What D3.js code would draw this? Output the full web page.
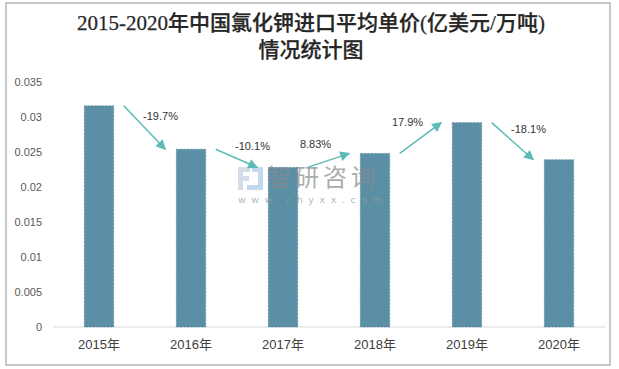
<!DOCTYPE html>
<html><head><meta charset="utf-8">
<script src="https://cdn.jsdelivr.net/npm/d3@7/dist/d3.min.js"></script>
<style>body{margin:0;background:#fff}svg{display:block}</style>
</head><body>
<script>
const categories = ["2015年","2016年","2017年","2018年","2019年","2020年"];
const values = [0.0316, 0.0254, 0.0228, 0.0248, 0.0292, 0.0239];
const growthLabels = ["-19.7%","-10.1%","8.83%","17.9%","-18.1%"];
const yTicks = [0, 0.005, 0.01, 0.015, 0.02, 0.025, 0.03, 0.035];
const titleLines = ["2015-2020年中国氯化钾进口平均单价(亿美元/万吨)", "情况统计图"];

const W = 619, H = 369;
const svg = d3.select("body").append("svg").attr("width", W).attr("height", H);

svg.append("rect").attr("x", 6).attr("y", 3).attr("width", 604).attr("height", 362)
  .attr("fill", "#fff").attr("stroke", "#a6a6a6").attr("stroke-width", 1.2);

const x = d3.scaleBand().domain(categories).range([53, 605]).paddingInner(0.68).paddingOuter(0.34);
const y = d3.scaleLinear().domain([0, 0.035]).range([327, 82]);

// title
svg.append("g").selectAll("text").data(titleLines).join("text")
  .attr("x", 311).attr("y", (d, i) => 30 + i * 27)
  .attr("text-anchor", "middle")
  .attr("font-family", "'Liberation Serif','Noto Sans CJK SC',serif")
  .attr("font-size", 21).attr("font-weight", 500).attr("fill", "#262626")
  .attr("stroke", "#262626").attr("stroke-width", 0.25)
  .text(d => d);

// y axis
const yAxis = svg.append("g").attr("transform", "translate(42,0)")
  .call(d3.axisLeft(y).tickValues(yTicks).tickSize(0).tickPadding(0).tickFormat(d => d3.format("")(+d.toFixed(3))));
yAxis.select(".domain").remove();
yAxis.selectAll("text").attr("font-family", "'Liberation Sans',Arial,sans-serif").attr("font-size", 11).attr("fill", "#595959");

// baseline
svg.append("line").attr("x1", 53).attr("x2", 605).attr("y1", y(0)).attr("y2", y(0))
  .attr("stroke", "#d9d9d9").attr("stroke-width", 1);

// x axis
const xAxis = svg.append("g").attr("transform", `translate(0,${y(0)})`)
  .call(d3.axisBottom(x).tickSize(0).tickPadding(13));
xAxis.select(".domain").remove();
xAxis.selectAll("text").attr("font-family", "'Liberation Sans','Noto Sans CJK SC',sans-serif").attr("font-size", 13).attr("fill", "#404040");

// bars
svg.append("g").selectAll("rect").data(values).join("rect")
  .attr("x", (d, i) => x(categories[i]))
  .attr("y", d => y(d))
  .attr("width", x.bandwidth())
  .attr("height", d => y(0) - y(d))
  .attr("fill", "#5b8fa6")
  .attr("stroke", "#52849b").attr("stroke-width", 0.6).attr("stroke-dasharray", "2,1.5");

// watermark
const wm = svg.append("g").attr("opacity", 0.7);
const lg = wm.append("g").attr("transform", "translate(238,167)");
lg.append("rect").attr("x", 0).attr("y", 0).attr("width", 12).attr("height", 5).attr("fill", "#c3cde0");
lg.append("rect").attr("x", 0).attr("y", 0).attr("width", 5).attr("height", 23).attr("fill", "#c3cde0");
lg.append("rect").attr("x", 0).attr("y", 9).attr("width", 11).attr("height", 5).attr("fill", "#c3cde0");
lg.append("rect").attr("x", 14).attr("y", 0).attr("width", 11).attr("height", 5).attr("fill", "#a9cbe8");
lg.append("rect").attr("x", 20).attr("y", 0).attr("width", 5).attr("height", 23).attr("fill", "#a9cbe8");
lg.append("rect").attr("x", 9).attr("y", 18).attr("width", 16).attr("height", 5).attr("fill", "#a9cbe8");
wm.append("text").attr("x", 267).attr("y", 186).attr("font-family", "'Noto Sans CJK SC',sans-serif")
  .attr("font-size", 24).attr("fill", "#8a8a8a").attr("letter-spacing", 4).text("智研咨询");
wm.append("text").attr("x", 238).attr("y", 203).attr("font-family", "'DejaVu Sans',sans-serif")
  .attr("font-size", 9.5).attr("fill", "#9a9a9a").attr("letter-spacing", 5.6).text("www.chyxx.com");

// arrows
const defs = svg.append("defs");
defs.append("marker").attr("id", "ah").attr("viewBox", "0 0 10 10").attr("refX", 9).attr("refY", 5)
  .attr("markerWidth", 11).attr("markerHeight", 10).attr("orient", "auto").attr("markerUnits", "userSpaceOnUse")
  .append("path").attr("d", "M0,0 L10,5 L0,10 z").attr("fill", "#5dbcb6");

const arrows = growthLabels.map((lab, i) => {
  const x1 = x(categories[i]) + x.bandwidth() + 10;
  const x2 = x(categories[i + 1]) - 11;
  const y1 = y(values[i]), y2 = y(values[i + 1]);
  return {lab, x1, x2, y1, y2};
});
svg.append("g").selectAll("line").data(arrows).join("line")
  .attr("x1", d => d.x1).attr("y1", d => d.y1).attr("x2", d => d.x2).attr("y2", d => d.y2)
  .attr("stroke", "#5dbcb6").attr("stroke-width", 1.5).attr("marker-end", "url(#ah)");
svg.append("g").selectAll("text").data(arrows).join("text")
  .attr("x", d => (d.x1 + d.x2) / 2 + (d.y2 > d.y1 ? 16 : -13))
  .attr("y", d => (d.y1 + d.y2) / 2 + (d.y2 > d.y1 ? -12 : -16) + 4)
  .attr("text-anchor", "middle")
  .attr("font-family", "'Liberation Sans',Arial,sans-serif").attr("font-size", 11).attr("fill", "#333")
  .text(d => d.lab);
</script>
</body></html>
